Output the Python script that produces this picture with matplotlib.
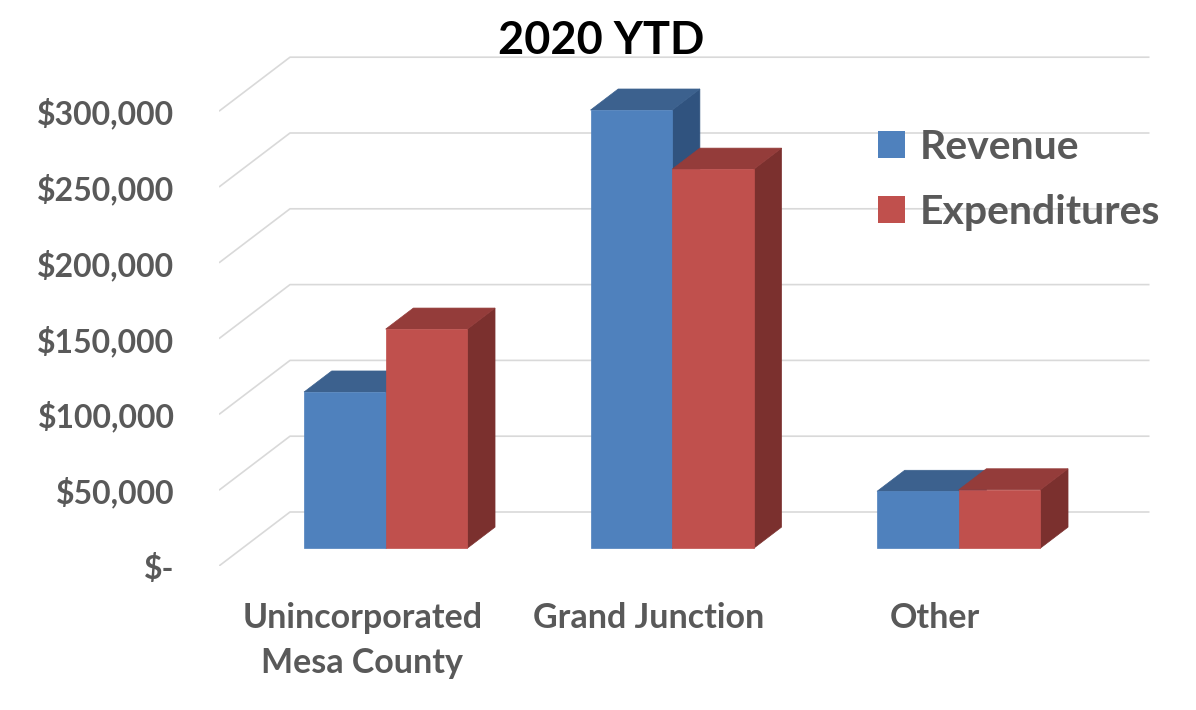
import numpy as np
import matplotlib
matplotlib.use("Agg")
import matplotlib.pyplot as plt
from matplotlib.patches import Polygon, Patch

plt.rcParams['font.family'] = ['Lato', 'DejaVu Sans']
plt.rcParams['font.weight'] = 'bold'

# data
categories = ["Unincorporated\nMesa County", "Grand Junction", "Other"]
series_names = ["Revenue", "Expenditures"]
revenue = [103000, 289000, 37500]
expenditures = [144500, 250000, 38500]
y_ticks = [0, 50000, 100000, 150000, 200000, 250000, 300000]

front_colors = ["#4F81BD", "#C0504D"]
top_colors = ["#3C618E", "#943C3A"]
side_colors = ["#30537F", "#7B302E"]
grid_color = "#D9D9D9"
text_color = "#595959"

# pseudo 3D layout (oblique projection)
px_per_cat = 286.5
px_per_50k = 75.8
depth_dx = 71 / px_per_cat                # x shift for full depth
depth_dy = 54 / px_per_50k * 50000        # y shift for full depth
bar_d0, bar_d1 = 0.33, 0.72               # bar depth inside the floor
gap = 0.215                               # half gap between groups


def proj(x, v, d):
    return (x + d * depth_dx, v + d * depth_dy)


fig = plt.figure(figsize=(11.96, 7.10), dpi=100)
ax_w, ax_h = 941, 516
ax = fig.add_axes([219 / 1196, (710 - 566) / 710, ax_w / 1196, ax_h / 710])
ax.set_xlim(0, ax_w / px_per_cat)
ax.set_ylim(0, ax_h / px_per_50k * 50000)
for s in ax.spines.values():
    s.set_visible(False)

# gridlines on side wall and back wall
n = len(categories)
for v in y_ticks:
    xa, ya = proj(0, v, 0)
    xb, yb = proj(0, v, 1)
    xc, yc = proj(n, v, 1)
    ax.plot([xa, xb, xc], [ya, yb, yc], color=grid_color, lw=1.2,
            solid_capstyle='butt', zorder=1)

# bars
for i in range(n):
    for k, vals in enumerate([revenue, expenditures]):
        v = vals[i]
        x0 = i + gap + k * (0.5 - gap)
        x1 = x0 + (0.5 - gap)
        front = [proj(x0, 0, bar_d0), proj(x1, 0, bar_d0),
                 proj(x1, v, bar_d0), proj(x0, v, bar_d0)]
        top = [proj(x0, v, bar_d0), proj(x1, v, bar_d0),
               proj(x1, v, bar_d1), proj(x0, v, bar_d1)]
        side = [proj(x1, 0, bar_d0), proj(x1, 0, bar_d1),
                proj(x1, v, bar_d1), proj(x1, v, bar_d0)]
        for pts, c in [(side, side_colors[k]), (top, top_colors[k]),
                       (front, front_colors[k])]:
            ax.add_patch(Polygon(pts, closed=True, facecolor=c,
                                 edgecolor=c, lw=0.5, zorder=2, clip_on=False))

# axes labels
ax.set_yticks(y_ticks)
ax.set_yticklabels(["$-" if t == 0 else "${:,.0f}".format(t) for t in y_ticks])
ax.set_xticks([i + 0.5 for i in range(n)])
ax.set_xticklabels(categories, linespacing=1.5)
ax.tick_params(axis='y', length=0, pad=32, labelsize=23, labelcolor=text_color)
ax.tick_params(axis='x', length=0, pad=26, labelsize=24.5, labelcolor=text_color)

fig.text(601 / 1196, (710 - 54) / 710, "2020 YTD", ha='center', va='baseline',
         fontsize=32.5, color='black', fontweight='bold')

handles = [Patch(facecolor=front_colors[k], label=series_names[k]) for k in range(2)]
fig.legend(handles=handles, loc='upper left',
           bbox_to_anchor=(878 / 1196, 1 - 129 / 710),
           frameon=False, fontsize=29.5, labelcolor=text_color,
           handlelength=0.66, handleheight=0.66, handletextpad=0.36,
           labelspacing=0.68, borderpad=0, borderaxespad=0)

fig.savefig("out.png", dpi=100)
